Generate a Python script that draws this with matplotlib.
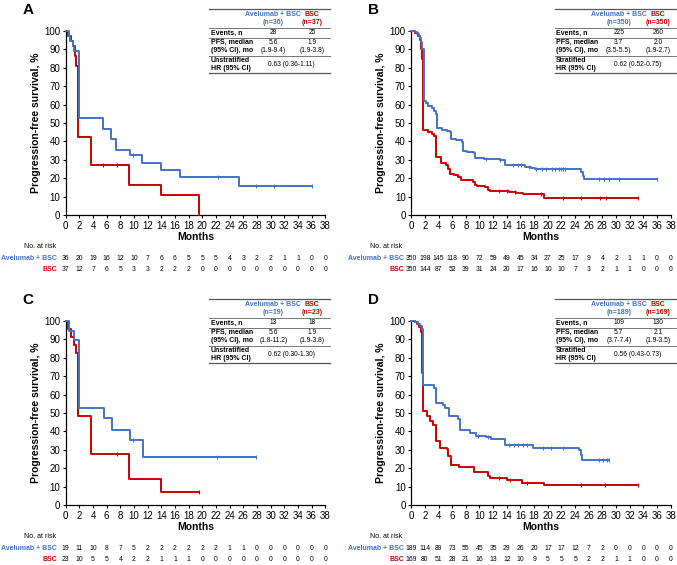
import numpy as np
import matplotlib.pyplot as plt
from matplotlib.lines import Line2D

plt.rcParams['font.family'] = ['Liberation Sans', 'DejaVu Sans']

BLUE = '#4472C4'
RED = '#CC0000'
W, H = 677, 565

months = list(range(0, 39, 2))

# ---- panel A ----
a_blue_t = [0, 0.5, 0.7, 1.0, 1.2, 1.9, 5.5, 6.7, 7.4, 9.4, 11.2, 14.0, 16.8, 25.4, 36.1]
a_blue_s = [100, 97.2, 94.4, 91.7, 88.9, 52.8, 47.0, 41.1, 35.3, 32.4, 28.5, 24.4, 20.4, 15.6, 15.6]
a_blue_cens = [9.9, 22.3, 27.8, 30.5, 36.1]
a_red_t = [0, 0.4, 0.8, 1.1, 1.3, 1.5, 1.85, 3.7, 9.3, 14.0, 19.5]
a_red_s = [100, 97.3, 94.6, 91.9, 86.5, 81.1, 42.2, 27.4, 16.5, 10.9, 0]
a_red_cens = [5.5, 7.5]
a_risk_blue = [36, 20, 19, 16, 12, 10, 7, 6, 6, 5, 5, 5, 4, 3, 2, 2, 1, 1, 0, 0]
a_risk_red = [37, 12, 7, 6, 5, 3, 3, 2, 2, 2, 0, 0, 0, 0, 0, 0, 0, 0, 0, 0]
a_table = ['(n=36)', '(n=37)', '28', '25', '5.6', '(1.9-9.4)', '1.9', '(1.9-3.8)',
           'Unstratified', '0.63 (0.36-1.11)']

# ---- panel B ----
b_blue_t = [0, 0.5, 0.8, 1.1, 1.3, 1.5, 1.65, 1.9, 2.2, 2.5, 3.0, 3.3, 3.6, 3.75, 4.5, 5.2,
            5.7, 5.9, 6.6, 7.4, 7.55, 8.2, 9.2, 9.35, 10.6, 11.8, 13.0, 13.8, 16.6, 17.5,
            18.1, 24.85, 25.1, 25.3, 36.0]
b_blue_s = [100, 99.4, 98.3, 97.1, 96.0, 94.0, 90.0, 62.0, 60.6, 59.5, 58.3, 56.6, 55.0,
            47.1, 46.3, 45.6, 45.0, 41.1, 40.5, 39.9, 34.6, 34.1, 33.5, 31.2, 30.7, 30.3,
            29.7, 27.3, 25.9, 25.3, 24.8, 23.6, 21.0, 19.5, 19.5]
b_blue_cens = [11.0, 13.0, 14.9, 15.6, 16.1, 17.3, 18.3, 19.2, 19.7, 20.6, 21.1, 21.6,
               21.9, 22.3, 22.5, 27.5, 28.3, 29.0, 30.4, 36.0]
b_red_t = [0, 0.6, 1.0, 1.3, 1.45, 1.55, 1.7, 2.5, 3.0, 3.3, 3.6, 3.7, 4.4, 5.1, 5.4, 5.7,
           6.3, 6.9, 7.3, 9.0, 9.4, 9.7, 10.8, 11.3, 11.6, 14.3, 15.3, 16.3, 19.5, 33.2]
b_red_s = [100, 99.0, 97.5, 95.0, 90.0, 85.0, 46.2, 45.3, 44.2, 43.2, 37.0, 31.7, 28.3,
           27.4, 25.0, 22.5, 21.5, 20.8, 19.0, 18.1, 16.5, 15.8, 15.0, 13.6, 13.1, 12.7,
           12.1, 11.3, 9.4, 9.4]
b_red_cens = [12.9, 14.0, 15.2, 19.0, 22.2, 24.9, 27.6, 28.5, 33.2]
b_risk_blue = [350, 198, 145, 118, 90, 72, 59, 49, 45, 34, 27, 25, 17, 9, 4, 2, 1, 1, 0, 0]
b_risk_red = [350, 144, 87, 52, 39, 31, 24, 20, 17, 16, 10, 10, 7, 3, 2, 1, 1, 0, 0, 0]
b_table = ['(n=350)', '(n=350)', '225', '260', '3.7', '(3.5-5.5)', '2.0', '(1.9-2.7)',
           'Stratified', '0.62 (0.52-0.75)']

# ---- panel C ----
c_blue_t = [0, 0.5, 1.2, 1.9, 5.6, 6.8, 9.4, 11.3, 27.9]
c_blue_s = [100, 94.7, 89.5, 52.6, 47.4, 41.0, 35.1, 26.3, 26.3]
c_blue_cens = [9.8, 22.2, 27.9]
c_red_t = [0, 0.4, 0.8, 1.2, 1.5, 1.85, 3.7, 9.3, 14.0, 19.5]
c_red_s = [100, 95.7, 91.3, 87.0, 82.6, 48.5, 27.8, 13.9, 6.9, 6.9]
c_red_cens = [7.5, 19.5]
c_risk_blue = [19, 11, 10, 8, 7, 5, 2, 2, 2, 2, 2, 2, 1, 1, 0, 0, 0, 0, 0, 0]
c_risk_red = [23, 10, 5, 5, 4, 2, 2, 1, 1, 1, 0, 0, 0, 0, 0, 0, 0, 0, 0, 0]
c_table = ['(n=19)', '(n=23)', '13', '18', '5.6', '(1.8-11.2)', '1.9', '(1.9-3.8)',
           'Unstratified', '0.62 (0.30-1.30)']

# ---- panel D ----
d_blue_t = [0, 0.6, 1.0, 1.3, 1.6, 1.8, 3.3, 3.6, 4.6, 5.0, 5.6, 6.9, 7.2, 8.6, 9.5, 11.0,
            11.7, 13.8, 17.8, 24.6, 24.8, 25.0, 29.0]
d_blue_s = [100, 99.4, 98.4, 97.3, 95.5, 65.3, 63.8, 55.4, 54.5, 52.7, 48.4, 46.8, 40.5,
            39.2, 37.4, 36.9, 35.6, 32.4, 31.1, 30.0, 27.0, 24.7, 24.7]
d_blue_cens = [9.8, 11.2, 14.3, 15.0, 15.7, 16.3, 17.0, 19.3, 20.5, 22.2, 27.5, 28.1,
               28.6, 29.0]
d_red_t = [0, 0.5, 0.9, 1.2, 1.4, 1.55, 1.7, 2.3, 2.8, 3.25, 3.6, 3.7, 4.2, 5.2, 5.4, 5.9,
           7.0, 9.2, 11.3, 11.6, 14.0, 16.2, 19.4, 33.2]
d_red_s = [100, 99.4, 98.2, 97.0, 94.0, 72.0, 50.9, 48.2, 45.5, 43.7, 40.1, 34.7, 31.1,
           30.2, 26.5, 22.0, 20.8, 18.1, 15.7, 14.5, 13.4, 12.1, 10.8, 10.8]
d_red_cens = [12.9, 14.5, 17.0, 24.9, 28.4, 33.2]
d_risk_blue = [189, 114, 89, 73, 55, 45, 35, 29, 26, 20, 17, 17, 12, 7, 2, 0, 0, 0, 0, 0]
d_risk_red = [169, 80, 51, 28, 21, 16, 13, 12, 10, 9, 5, 5, 5, 2, 2, 1, 1, 0, 0, 0]
d_table = ['(n=189)', '(n=169)', '109', '130', '5.7', '(3.7-7.4)', '2.1', '(1.9-3.5)',
           'Stratified', '0.56 (0.43-0.73)']


def fx(px):
    return px / W


def fy(py):
    return 1 - py / H


def surv_at(t, s, times):
    idx = np.searchsorted(np.array(t), np.array(times), side='right') - 1
    return np.array(s)[idx]


def hline(fig, x0, x1, y, color, lw):
    fig.add_artist(Line2D([fx(x0), fx(x1)], [fy(y), fy(y)], color=color, lw=lw,
                          transform=fig.transFigure))


def draw_table(fig, dx, dy, tb):
    c1, c2, cm = 273.3 + dx, 312.3 + dx, 291.7 + dx
    lx = 210.7 + dx
    fs = 5.0
    vs = 4.8
    hline(fig, 209 + dx, 330 + dx, 9.3 + dy, '#555555', 0.9)
    fig.text(fx(c1), fy(14.3 + dy), 'Avelumab + BSC', color=BLUE, fontsize=fs,
             fontweight='bold', ha='center', va='center')
    fig.text(fx(c1), fy(22.7 + dy), tb[0], color=BLUE, fontsize=fs,
             fontweight='bold', ha='center', va='center')
    fig.text(fx(c2), fy(14.3 + dy), 'BSC', color=RED, fontsize=fs,
             fontweight='bold', ha='center', va='center')
    fig.text(fx(c2), fy(22.7 + dy), tb[1], color=RED, fontsize=fs,
             fontweight='bold', ha='center', va='center')
    hline(fig, 209 + dx, 330 + dx, 28.3 + dy, '#777777', 0.7)
    fig.text(fx(lx), fy(33 + dy), 'Events, n', fontsize=fs, fontweight='bold', va='center')
    fig.text(fx(c1), fy(33 + dy), tb[2], fontsize=vs, ha='center', va='center')
    fig.text(fx(c2), fy(33 + dy), tb[3], fontsize=vs, ha='center', va='center')
    hline(fig, 209 + dx, 330 + dx, 37.7 + dy, '#777777', 0.7)
    fig.text(fx(lx), fy(42.7 + dy), 'PFS, median', fontsize=fs, fontweight='bold', va='center')
    fig.text(fx(lx), fy(50.7 + dy), '(95% CI), mo', fontsize=fs, fontweight='bold', va='center')
    fig.text(fx(c1), fy(42.7 + dy), tb[4], fontsize=vs, ha='center', va='center')
    fig.text(fx(c1), fy(50.7 + dy), tb[5], fontsize=vs, ha='center', va='center')
    fig.text(fx(c2), fy(42.7 + dy), tb[6], fontsize=vs, ha='center', va='center')
    fig.text(fx(c2), fy(50.7 + dy), tb[7], fontsize=vs, ha='center', va='center')
    hline(fig, 209 + dx, 330 + dx, 56 + dy, '#777777', 0.7)
    fig.text(fx(lx), fy(60.3 + dy), tb[8], fontsize=fs, fontweight='bold', va='center')
    fig.text(fx(lx), fy(68 + dy), 'HR (95% CI)', fontsize=fs, fontweight='bold', va='center')
    fig.text(fx(cm), fy(64 + dy), tb[9], fontsize=vs, ha='center', va='center')
    hline(fig, 209 + dx, 330 + dx, 73 + dy, '#555555', 0.9)


panels = [
    ('A', 0, 0, a_blue_t, a_blue_s, a_blue_cens, a_red_t, a_red_s, a_red_cens,
     a_risk_blue, a_risk_red, a_table, 57),
    ('B', 345.5, 0, b_blue_t, b_blue_s, b_blue_cens, b_red_t, b_red_s, b_red_cens,
     b_risk_blue, b_risk_red, b_table, 58.5),
    ('C', 0, 290, c_blue_t, c_blue_s, c_blue_cens, c_red_t, c_red_s, c_red_cens,
     c_risk_blue, c_risk_red, c_table, 57),
    ('D', 345.5, 290, d_blue_t, d_blue_s, d_blue_cens, d_red_t, d_red_s, d_red_cens,
     d_risk_blue, d_risk_red, d_table, 58.5),
]

fig = plt.figure(figsize=(6.77, 5.65), dpi=100)

for (letter, dx, dy, bt, bs, bc, rt, rs, rc, rb, rr, tb, lab_x) in panels:
    ax_left, ax_w, ax_top, ax_h = 65.7 + dx, 259.5, 31 + dy, 184
    ax = fig.add_axes([fx(ax_left), fy(ax_top + ax_h), ax_w / W, ax_h / H])

    ax.step(rt, rs, where='post', color=RED, lw=1.4, clip_on=False, zorder=3)
    ax.plot(rc, surv_at(rt, rs, rc), ls='none', marker='|', ms=3.2, mew=0.8,
            color=RED, clip_on=False, zorder=3)
    ax.step(bt, bs, where='post', color=BLUE, lw=1.4, clip_on=False, zorder=4)
    ax.plot(bc, surv_at(bt, bs, bc), ls='none', marker='|', ms=3.2, mew=0.8,
            color=BLUE, clip_on=False, zorder=4)

    ax.set_xlim(0, 38)
    ax.set_ylim(0, 100)
    ax.set_xticks(months)
    ax.set_yticks(range(0, 101, 10))
    ax.spines['top'].set_visible(False)
    ax.spines['right'].set_visible(False)
    ax.spines['left'].set_linewidth(0.9)
    ax.spines['bottom'].set_linewidth(0.9)
    ax.tick_params(direction='out', length=2.5, width=0.8, labelsize=7, pad=1.5)
    ax.set_xlabel('Months', fontsize=7.5, fontweight='bold', labelpad=1.2)
    ax.set_ylabel('Progression-free survival, %', fontsize=7.5, fontweight='bold', labelpad=2.5)

    # number at risk rows
    tr = ax.get_xaxis_transform()
    for m, vb, vr in zip(months, rb, rr):
        ax.text(m, (215 - 258.3) / ax_h, str(vb), transform=tr, fontsize=4.9,
                ha='center', va='center', clip_on=False)
        ax.text(m, (215 - 269.3) / ax_h, str(vr), transform=tr, fontsize=4.9,
                ha='center', va='center', clip_on=False)
    ax.text((56.2 - 65.7) / ax_w, (215 - 246.7) / ax_h, 'No. at risk', transform=ax.transAxes,
            fontsize=5.0, ha='right', va='center')
    ax.text((lab_x - 65.7) / ax_w, (215 - 258.3) / ax_h, 'Avelumab + BSC', transform=ax.transAxes,
            fontsize=5.0, fontweight='bold', color=BLUE, ha='right', va='center')
    ax.text((lab_x - 65.7) / ax_w, (215 - 269.3) / ax_h, 'BSC', transform=ax.transAxes,
            fontsize=5.0, fontweight='bold', color=RED, ha='right', va='center')

    fig.text(fx(28 + dx), fy(9.5 + dy), letter, fontsize=11, fontweight='bold',
             ha='center', va='center')
    draw_table(fig, dx, dy, tb)

fig.savefig('out.png', dpi=100)
